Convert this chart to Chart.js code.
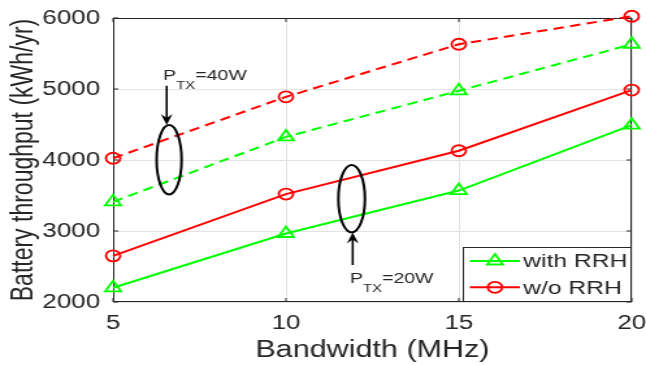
<!DOCTYPE html>
<html><head><meta charset="utf-8">
<script src="https://cdn.jsdelivr.net/npm/chart.js@4.4.0/dist/chart.umd.min.js"></script>
<style>
html,body{margin:0;padding:0;background:#fff;overflow:hidden;}
#wrap{position:absolute;left:0;top:0;width:497px;height:365px;transform:scaleX(1.2998);transform-origin:0 0;}
</style></head><body>
<div id="wrap"><canvas id="c"></canvas></div>
<script>
// ---- data ----
const bandwidth = [5, 10, 15, 20];
const withRRH20W = [2200, 2965, 3570, 4490];
const woRRH20W   = [2650, 3520, 4130, 4985];
const withRRH40W = [3410, 4325, 4975, 5630];
const woRRH40W   = [4025, 4890, 5630, 6025];
const seriesLabels = ['with RRH', 'w/o RRH'];
const xTickValues = [5, 10, 15, 20];
const yTickValues = [2000, 3000, 4000, 5000, 6000];
const xTitle = 'Bandwidth (MHz)';
const yTitle = 'Battery throughput (kWh/yr)';
const noteLabels = ['40W', '20W'];

// annotation anchors (in data units)
const notes = [
  {text: noteLabels[0], cx: 6.62, cy: 4004, rx: 0.361, ry: 489, ax: 6.55, tail: 5046, tip: 4493, tx: 6.45, ty: 5127},
  {text: noteLabels[1], cx: 11.90, cy: 3455, rx: 0.384, ry: 475, ax: 11.93, tail: 2521, tip: 2980, tx: 11.85, ty: 2263}
];

const F = '"Liberation Sans", Arial, sans-serif';
const GREEN = '#00ff00', RED = '#ff0000', INK = '#262626';
const pts = arr => bandwidth.map((b, i) => ({x: b, y: arr[i]}));

function ds(label, arr, color, style, dashed, r) {
  return {
    label, data: pts(arr), borderColor: color, backgroundColor: 'transparent',
    borderWidth: 2, borderDash: dashed ? [8, 5] : [],
    pointStyle: style, pointRadius: r, pointBorderWidth: 1.8,
    pointBorderColor: color, pointBackgroundColor: 'transparent',
    tension: 0, clip: false
  };
}

const boxPlugin = {
  id: 'box',
  beforeDatasetsDraw(chart) {
    const {ctx, chartArea: a, scales: {x, y}} = chart;
    ctx.save();
    ctx.strokeStyle = INK; ctx.lineWidth = 1;
    ctx.strokeRect(a.left + 0.5, a.top + 0.5, a.right - a.left - 1, a.bottom - a.top - 1);
    ctx.beginPath();
    const L = 4;
    xTickValues.forEach(v => {
      const px = x.getPixelForValue(v);
      ctx.moveTo(px, a.bottom); ctx.lineTo(px, a.bottom - L);
      ctx.moveTo(px, a.top); ctx.lineTo(px, a.top + L);
    });
    yTickValues.forEach(v => {
      const py = y.getPixelForValue(v);
      ctx.moveTo(a.left, py); ctx.lineTo(a.left + L, py);
      ctx.moveTo(a.right, py); ctx.lineTo(a.right - L, py);
    });
    ctx.stroke();
    ctx.restore();
  }
};

const notePlugin = {
  id: 'notes',
  afterDatasetsDraw(chart) {
    const {ctx, scales: {x, y}} = chart;
    ctx.save();
    ctx.strokeStyle = '#000'; ctx.fillStyle = '#000';
    notes.forEach(n => {
      const cx = x.getPixelForValue(n.cx), cy = y.getPixelForValue(n.cy);
      const rx = Math.abs(x.getPixelForValue(n.cx + n.rx) - cx);
      const ry = Math.abs(y.getPixelForValue(n.cy + n.ry) - cy);
      ctx.lineWidth = 2;
      ctx.beginPath(); ctx.ellipse(cx, cy, rx, ry, 0, 0, Math.PI * 2); ctx.stroke();
      const ax = x.getPixelForValue(n.ax);
      const t0 = y.getPixelForValue(n.tail), t1 = y.getPixelForValue(n.tip);
      const dir = t1 > t0 ? 1 : -1;
      ctx.lineWidth = 1.6;
      ctx.beginPath(); ctx.moveTo(ax, t0); ctx.lineTo(ax, t1 - dir * 6); ctx.stroke();
      ctx.beginPath();
      ctx.moveTo(ax, t1);
      ctx.lineTo(ax - 4.5, t1 - dir * 11);
      ctx.lineTo(ax, t1 - dir * 7);
      ctx.lineTo(ax + 4.5, t1 - dir * 11);
      ctx.closePath(); ctx.fill();
      const tx = x.getPixelForValue(n.tx), ty = y.getPixelForValue(n.ty);
      ctx.fillStyle = INK;
      ctx.textBaseline = 'alphabetic'; ctx.textAlign = 'left';
      ctx.font = '15px ' + F;
      ctx.fillText('P', tx, ty);
      let off = ctx.measureText('P').width;
      ctx.font = '11.5px ' + F;
      ctx.fillText('TX', tx + off, ty + 9);
      off += ctx.measureText('TX').width;
      ctx.font = '15px ' + F;
      ctx.fillText('=' + n.text, tx + off, ty);
      ctx.fillStyle = '#000';
    });
    ctx.restore();
  }
};

const legendPlugin = {
  id: 'legendBox',
  afterDraw(chart) {
    const {ctx, chartArea: a} = chart;
    const w = 130, h = 55;
    const bx = a.right - w, by = a.bottom - h;
    ctx.save();
    ctx.fillStyle = '#fff'; ctx.fillRect(bx, by, w, h);
    ctx.strokeStyle = INK; ctx.lineWidth = 1;
    ctx.strokeRect(bx + 0.5, by + 0.5, w - 1, h - 1);
    const entries = [chart.data.datasets[0], chart.data.datasets[1]];
    entries.forEach((d, i) => {
      const yy = by + 14 + i * 26.3;
      ctx.strokeStyle = d.borderColor; ctx.lineWidth = 2; ctx.setLineDash([]);
      ctx.beginPath(); ctx.moveTo(bx + 5.5, yy); ctx.lineTo(bx + 44, yy); ctx.stroke();
      ctx.lineWidth = 1.8;
      ctx.fillStyle = 'rgba(0,0,0,0)';
      Chart.helpers.drawPoint(ctx, {pointStyle: d.pointStyle, radius: d.pointRadius, rotation: 0, borderWidth: 1.8}, bx + 24.8, yy);
      ctx.fillStyle = INK; ctx.font = '19px ' + F;
      ctx.textBaseline = 'middle'; ctx.textAlign = 'left';
      ctx.fillText(d.label, bx + 46.5, yy + 1);
    });
    ctx.restore();
  }
};

new Chart(document.getElementById('c'), {
  type: 'line',
  data: {
    datasets: [
      ds(seriesLabels[0], withRRH20W, GREEN, 'triangle', false, 7),
      ds(seriesLabels[1], woRRH20W, RED, 'circle', false, 5.5),
      ds(seriesLabels[0] + ' 40W', withRRH40W, GREEN, 'triangle', true, 7),
      ds(seriesLabels[1] + ' 40W', woRRH40W, RED, 'circle', true, 5.5)
    ]
  },
  options: {
    responsive: true, maintainAspectRatio: false, animation: false,
    layout: {padding: {left: 0, top: 18, right: 11, bottom: 0}},
    plugins: {legend: {display: false}, tooltip: {enabled: false}},
    scales: {
      x: {
        type: 'linear', min: 5, max: 20,
        afterBuildTicks: s => { s.ticks = xTickValues.map(v => ({value: v})); },
        ticks: {font: {family: F, size: 20}, color: INK, padding: 9, maxRotation: 0, callback: v => String(v)},
        grid: {color: '#e2e2e2', drawTicks: false, lineWidth: 1},
        border: {display: false},
        title: {display: true, text: xTitle, font: {family: F, size: 23.5}, color: INK, padding: {top: 0, bottom: 0}},
        afterFit: s => { s.height = 63; s.paddingLeft = 0; s.paddingRight = 0; }
      },
      y: {
        type: 'linear', min: 2000, max: 6000,
        afterBuildTicks: s => { s.ticks = yTickValues.map(v => ({value: v})); },
        ticks: {font: {family: F, size: 20}, color: INK, padding: 10, callback: v => String(v)},
        grid: {color: '#e2e2e2', drawTicks: false, lineWidth: 1},
        border: {display: false},
        title: {display: true, text: yTitle, font: {family: F, size: 23}, color: INK, padding: {top: 5, bottom: 0}},
        afterFit: s => { s.width = 87; s.paddingTop = 0; s.paddingBottom = 0; }
      }
    }
  },
  plugins: [boxPlugin, notePlugin, legendPlugin]
});
</script>
</body></html>
